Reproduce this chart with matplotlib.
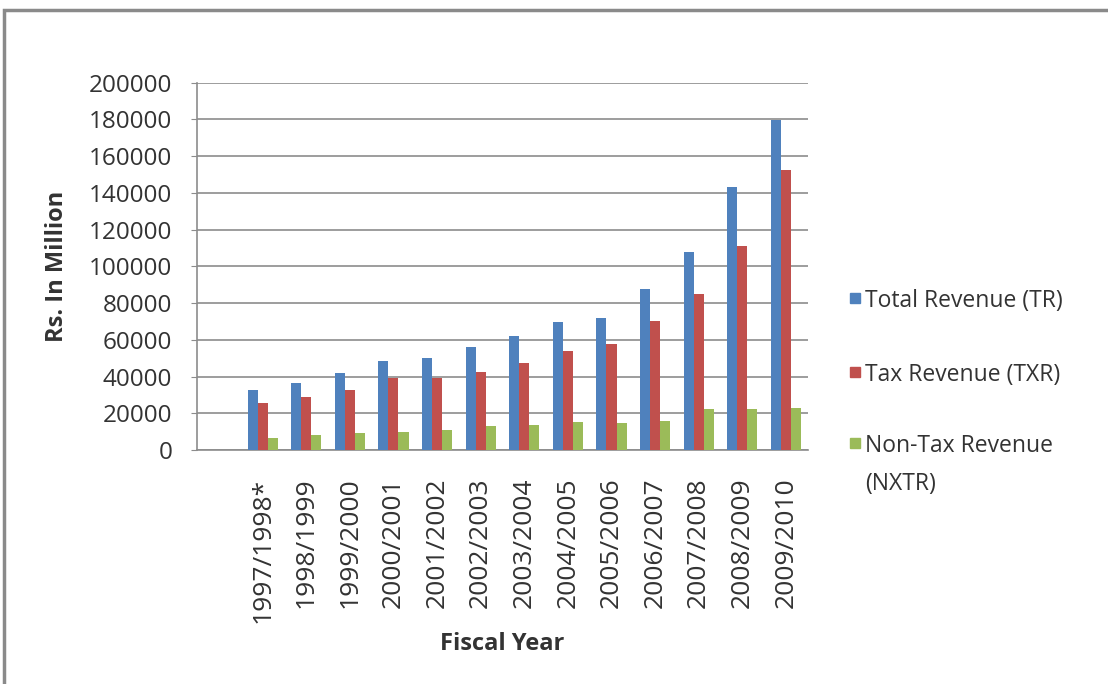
import matplotlib.pyplot as plt
import numpy as np
from matplotlib.patches import Rectangle

plt.rcParams['font.family'] = ['Open Sans', 'DejaVu Sans']

# fiscal years (first slot on the axis is left blank)
years = ['', '1997/1998*', '1998/1999', '1999/2000', '2000/2001', '2001/2002',
         '2002/2003', '2003/2004', '2004/2005', '2005/2006', '2006/2007',
         '2007/2008', '2008/2009', '2009/2010']

# Rs. in million
total_rev = [np.nan, 32700, 36700, 42100, 48500, 49900, 56300, 62100, 69900,
             72000, 87800, 107600, 143400, 179700]
tax_rev = [np.nan, 25800, 28700, 32700, 39000, 39000, 42300, 47500, 54100,
           57500, 70400, 84800, 111300, 152400]
nontax_rev = [np.nan, 6700, 8200, 9400, 10000, 10900, 13200, 13600, 15400,
              14900, 16000, 22300, 22300, 23000]

series = [
    ('Total Revenue (TR)', total_rev, '#4F81BD'),
    ('Tax Revenue (TXR)', tax_rev, '#C0504D'),
    ('Non-Tax Revenue\n(NXTR)', nontax_rev, '#9BBB59'),
]

fig = plt.figure(figsize=(11.08, 6.84), dpi=100)
ax = fig.add_axes([0.178, 0.342, 0.551, 0.537])

x = np.arange(len(years))
w = 0.23
for i, (name, vals, col) in enumerate(series):
    ax.bar(x + (i - 1) * w, vals, width=w, color=col, zorder=3)

ax.set_xlim(-0.5, len(years) - 0.5)
ax.set_ylim(0, 200000)
ax.set_yticks(np.arange(0, 200001, 20000))
ax.yaxis.grid(True, color='#8c8c8c', lw=1.2, zorder=0)
ax.set_xticks(x)
ax.set_xticklabels(years, rotation=90, fontsize=19, color='#333333')
ax.tick_params(axis='x', length=0, pad=20)
ax.tick_params(axis='y', length=4, color='#8c8c8c', labelsize=17.5,
               labelcolor='#333333', pad=14)

for s in ['top', 'right']:
    ax.spines[s].set_visible(False)
for s in ['left', 'bottom']:
    ax.spines[s].set_color('#8c8c8c')
    ax.spines[s].set_linewidth(1.2)

ax.set_ylabel('Rs. In Million', fontsize=17, fontweight='bold',
              color='#333333', labelpad=14)
fig.text(0.453, 0.058, 'Fiscal Year', fontsize=17, fontweight='bold',
         color='#333333', ha='center', va='center')

# legend on the right
leg_y = [298, 372, 443]
for (name, vals, col), yy in zip(series, leg_y):
    fy = 1 - yy / 684
    fig.patches.append(Rectangle((850 / 1108, fy - 5 / 684), 10 / 1108, 10 / 684,
                                 transform=fig.transFigure, color=col))
    lines = name.split('\n')
    for k, line in enumerate(lines):
        fig.text(865 / 1108, fy - (3 + 38 * k) / 684, line, fontsize=16.5,
                 color='#333333', ha='left', va='center')

# outer chart border
fig.patches.append(Rectangle((4 / 1108, -0.1), 1.2, 1 - 10 / 684 + 0.1,
                             transform=fig.transFigure, fill=False,
                             edgecolor='#8a8a8a', lw=2.5))

fig.savefig('out.png', dpi=100)
